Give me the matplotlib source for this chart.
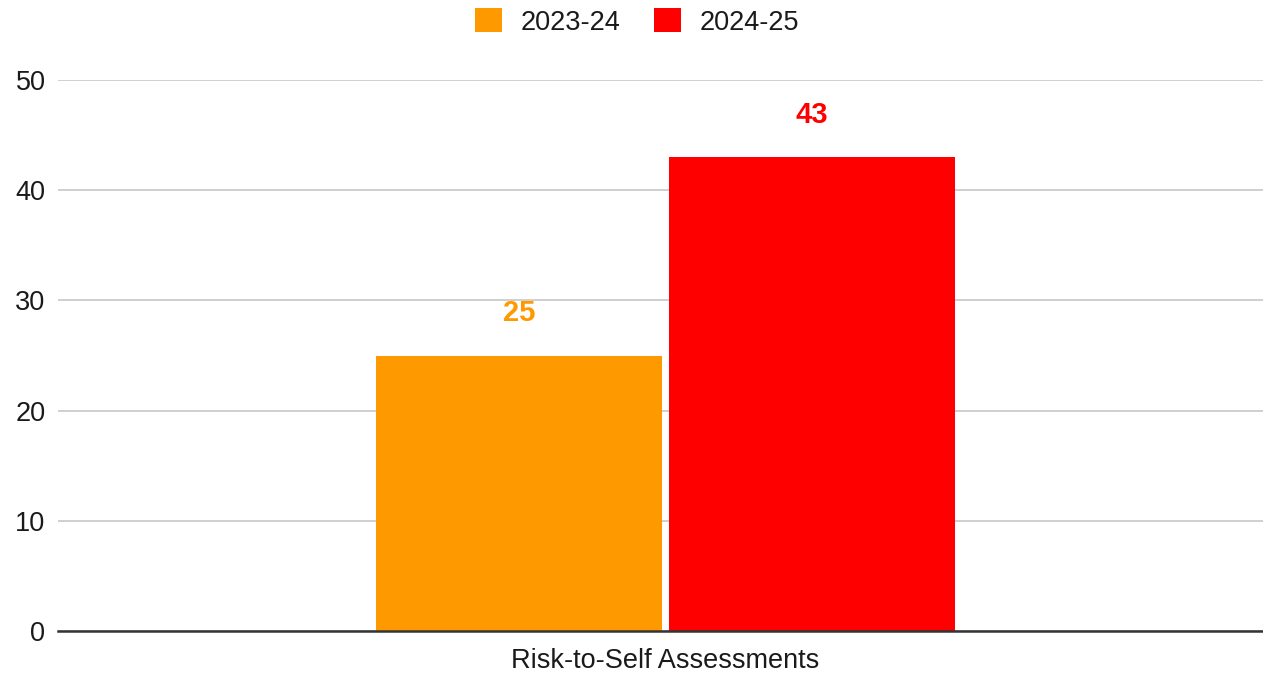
import matplotlib.pyplot as plt

plt.rcParams['font.family'] = ['Liberation Sans', 'DejaVu Sans']

# data
category = ["Risk-to-Self Assessments"]
years = ["2023-24", "2024-25"]
values = [25, 43]
colors = ["#FF9900", "#FF0000"]

fig = plt.figure(figsize=(12.63, 6.74), dpi=100)
ax = fig.add_axes([0.0459, 0.0638, 0.954, 0.8175])

width = 0.2373
offsets = [-0.1213, 0.1213]
for yr, v, c, off in zip(years, values, colors, offsets):
    ax.bar(0 + off, v, width=width, color=c, label=yr, zorder=3)
    ax.text(0 + off, v + 3.85, str(v), ha="center", va="center",
            color=c, fontsize=21, fontweight="bold")

ax.set_ylim(0, 50)
ax.set_xlim(-0.5043, 0.4957)
ax.set_yticks([0, 10, 20, 30, 40, 50])
ax.set_xticks([0])
ax.set_xticklabels(category)
ax.tick_params(axis="y", length=0, pad=9, labelsize=19.5, labelcolor="#1a1a1a")
ax.tick_params(axis="x", length=0, pad=12, labelsize=19.5, labelcolor="#1a1a1a")
ax.grid(axis="y", color="#cccccc", linewidth=1.3, zorder=0)
for s in ["top", "right", "left"]:
    ax.spines[s].set_visible(False)
ax.spines["bottom"].set_color("#333333")
ax.spines["bottom"].set_linewidth(1.8)
ax.spines["bottom"].set_zorder(4)

fig.legend(loc="upper center", bbox_to_anchor=(0.5045, 1.024), ncol=2, frameon=False,
           fontsize=19.5, handlelength=1.0, handleheight=1.0, columnspacing=1.25,
           handletextpad=0.67, labelcolor="#1a1a1a")

fig.savefig("out.png", dpi=100)
